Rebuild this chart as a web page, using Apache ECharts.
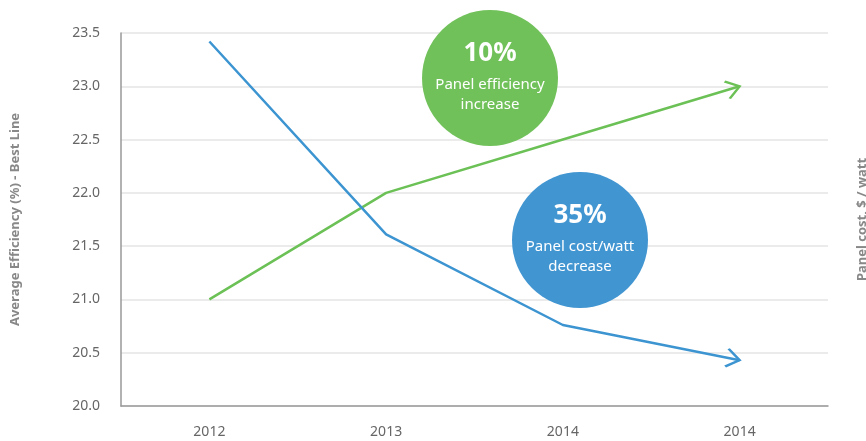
<!DOCTYPE html>
<html>
<head>
<meta charset="utf-8">
<script src="https://cdn.jsdelivr.net/npm/echarts@6/dist/echarts.min.js"></script>
<style>
  html, body { margin: 0; padding: 0; background: #fff; }
  #main { width: 866px; height: 441px; }
</style>
</head>
<body>
<div id="main"></div>
<script>
// x categories (the last label really is repeated in the source)
var years = ['2012', '2013', '2014', '2014'];
// efficiency line (green) and panel cost line (blue), read on the left scale
var efficiency = [21.0, 22.0, 22.5, 23.0];
var panelCost = [23.42, 21.61, 20.76, 20.43];

var GREEN = '#6cc156';
var BLUE = '#3c94d1';
var FONT = 'Noto Sans';

// open chevron, bbox padded so that the tip sits in the centre
var chevron = 'path://M0,0L10,8L0,16M20,0M20,16';

function lineSeries(name, data, color) {
    var last = data.length - 1;
    return {
        name: name,
        type: 'line',
        data: data,
        showSymbol: true,
        symbol: function (v, p) { return p.dataIndex === last ? chevron : 'none'; },
        symbolSize: [26, 18],
        symbolRotate: 0,
        lineStyle: { color: color, width: 2.5 },
        itemStyle: { color: 'rgba(0,0,0,0)', borderColor: color, borderWidth: 2.5 },
        emphasis: { disabled: true },
        z: 3
    };
}

function bubble(left, top, color, big, line1, line2) {
    var txt = function (y, text, font) {
        return { type: 'text', x: 68, y: y, z: 101,
            style: { text: text, fill: '#fff', font: font, align: 'center', verticalAlign: 'middle' } };
    };
    return {
        type: 'group', left: left, top: top,
        children: [
            { type: 'circle', z: 100, shape: { cx: 68, cy: 68, r: 68 }, style: { fill: color } },
            txt(44, big, 'bold 26px "Noto Sans"'),
            txt(75, line1, '15px "Noto Sans"'),
            txt(95, line2, '15px "Noto Sans"')
        ]
    };
}

var option = {
    animation: false,
    grid: { left: 121, right: 38, top: 33, bottom: 35, outerBoundsMode: 'none' },
    xAxis: {
        type: 'category',
        data: years,
        boundaryGap: true,
        axisLine: { lineStyle: { color: '#999', width: 1.5 } },
        axisTick: { show: false },
        axisLabel: { color: '#666', fontSize: 14, fontFamily: FONT, margin: 19 }
    },
    yAxis: [{
        type: 'value',
        min: 20,
        max: 23.5,
        interval: 0.5,
        name: 'Average Efficiency (%) - Best Line',
        nameLocation: 'middle',
        nameGap: 99,
        nameTextStyle: { color: '#888', fontSize: 13, fontWeight: 'bold', fontFamily: FONT },
        axisLine: { show: true, lineStyle: { color: '#999', width: 1.5 } },
        axisTick: { show: false },
        splitLine: { lineStyle: { color: '#e5e5e5', width: 1.5 } },
        axisLabel: {
            color: '#666', fontSize: 14, fontFamily: FONT, margin: 21,
            formatter: function (v) { return v.toFixed(1); }
        }
    }, {
        type: 'value',
        position: 'right',
        min: 20,
        max: 23.5,
        interval: 0.5,
        name: 'Panel cost, $ / watt',
        nameLocation: 'middle',
        nameRotate: 90,
        nameGap: 28,
        nameTextStyle: { color: '#888', fontSize: 13, fontWeight: 'bold', fontFamily: FONT },
        axisLine: { show: false },
        axisTick: { show: false },
        axisLabel: { show: false },
        splitLine: { show: false }
    }],
    series: [
        lineSeries('Efficiency', efficiency, GREEN),
        lineSeries('Panel cost', panelCost, BLUE)
    ],
    graphic: [
        bubble(422, 10, '#71c15a', '10%', 'Panel efficiency', 'increase'),
        bubble(512, 172, '#4195d1', '35%', 'Panel cost/watt', 'decrease')
    ]
};

var myChart = echarts.init(document.getElementById('main'));
myChart.setOption(option);

// point each chevron along the last segment of its line
function endAngle(data) {
    var n = data.length;
    var a = myChart.convertToPixel({ gridIndex: 0 }, [n - 2, data[n - 2]]);
    var b = myChart.convertToPixel({ gridIndex: 0 }, [n - 1, data[n - 1]]);
    return Math.atan2(a[1] - b[1], b[0] - a[0]) * 180 / Math.PI;
}
myChart.setOption({
    series: [
        { symbolRotate: endAngle(efficiency) },
        { symbolRotate: endAngle(panelCost) }
    ]
});
</script>
</body>
</html>
